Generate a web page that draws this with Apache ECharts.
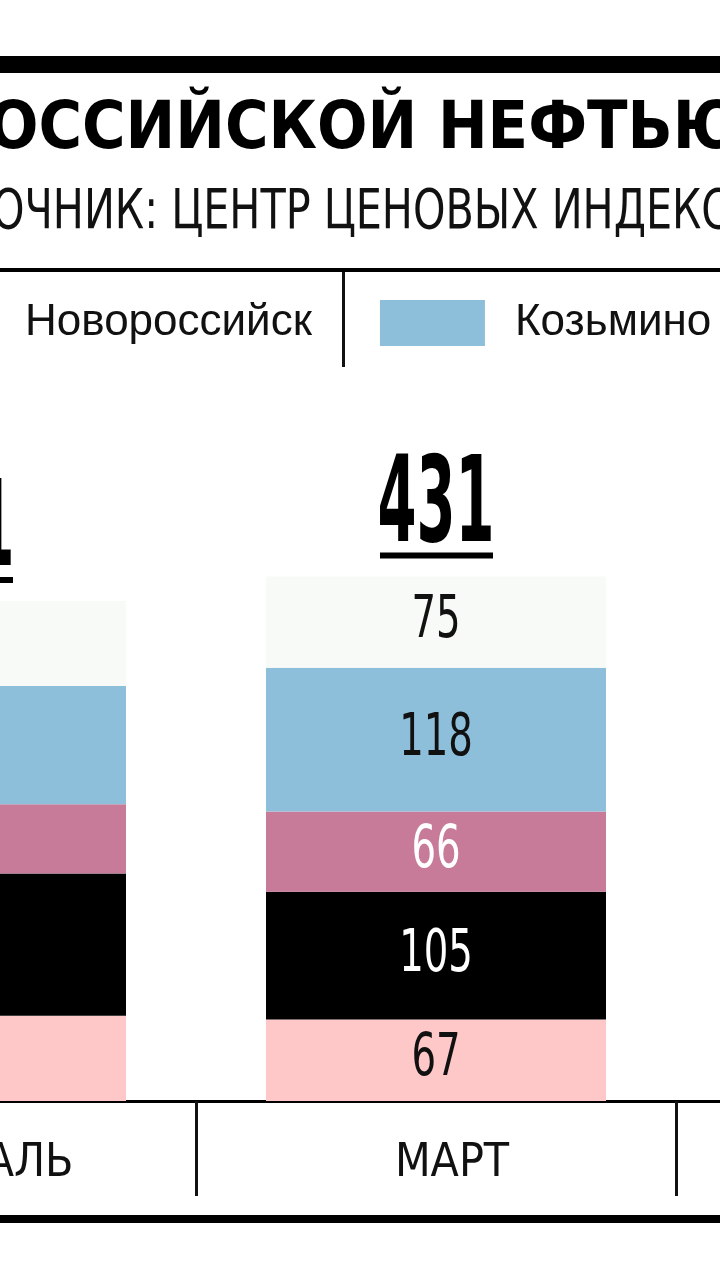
<!DOCTYPE html>
<html>
<head>
  <meta charset="UTF-8">
  <title>Экспорт российской нефти</title>
  <script src="https://cdn.jsdelivr.net/npm/echarts@6/dist/echarts.min.js"></script>
  <style>
    html, body { margin: 0; padding: 0; background: #fff; }
    #chart { width: 720px; height: 1280px; }
  </style>
</head>
<body>
  <div id="chart"></div>
  <script>
    // данные (третий месяц уходит за край кадра)
    var categories = ['ФЕВРАЛЬ', 'МАРТ', ''];
    var portNames = ['Приморск', 'Усть-Луга', 'Новороссийск', 'Козьмино', 'Прочие'];
    var pinkValues = [70, 67, null];
    var blackValues = [117, 105, null];
    var mauveValues = [57, 66, null];
    var blueValues = [97, 118, null];
    var lightValues = [70, 75, null];

    var NARROW = '"Liberation Sans Narrow", "DejaVu Sans Condensed", "Roboto", sans-serif';

    var stacks = [pinkValues, blackValues, mauveValues, blueValues, lightValues];
    var colors = ['#ffc8c8', '#000000', '#c87b98', '#8dbfdb', '#f8faf7'];
    var labelColors = ['#111', '#fff', '#fff', '#111', '#111'];

    // итог по месяцу = сумма сегментов
    var totals = categories.map(function (c, i) {
      var s = 0, has = false;
      stacks.forEach(function (arr) {
        if (arr[i] != null) { s += arr[i]; has = true; }
      });
      return has ? s : null;
    });
    var filled = totals.map(function (t, i) { return t == null ? null : [i, t]; }).filter(Boolean);

    var chart = echarts.init(document.getElementById('chart'));

    var series = stacks.map(function (arr, k) {
      return {
        name: portNames[k],
        type: 'bar',
        stack: 'all',
        barWidth: 340,
        data: arr,
        itemStyle: { color: colors[k] },
        emphasis: { disabled: true }
      };
    });

    // подписи сегментов (узкий шрифт через scaleX)
    series.push({
      type: 'custom',
      z: 5,
      data: filled,
      renderItem: function (params, api) {
        var i = api.value(0);
        var children = [];
        var cum = 0;
        stacks.forEach(function (arr, k) {
          var v = arr[i];
          if (v == null) return;
          var p = api.coord([i, cum + v / 2]);
          cum += v;
          children.push({
            type: 'text',
            x: p[0],
            y: p[1],
            scaleX: 0.74,
            style: {
              text: String(v),
              font: '58px ' + NARROW,
              fill: labelColors[k],
              align: 'center',
              verticalAlign: 'middle'
            }
          });
        });
        return { type: 'group', children: children };
      }
    });

    // подчёркнутые итоги над столбиками
    series.push({
      type: 'custom',
      z: 10,
      data: filled,
      renderItem: function (params, api) {
        var p = api.coord([api.value(0), api.value(1)]);
        return {
          type: 'group',
          children: [
            {
              type: 'text',
              x: p[0],
              y: p[1] - 67,
              scaleX: 0.52,
              style: {
                text: String(api.value(1)),
                font: 'bold 120px ' + NARROW,
                align: 'center',
                verticalAlign: 'middle',
                fill: '#000'
              }
            },
            {
              type: 'rect',
              shape: { x: p[0] - 56, y: p[1] - 24, width: 113, height: 6 },
              style: { fill: '#000' }
            }
          ]
        };
      }
    });

    var option = {
      backgroundColor: '#fff',
      animation: false,
      legend: {
        data: ['Новороссийск', 'Козьмино'],
        left: -110,
        top: 300,
        padding: 0,
        width: 2000,
        itemWidth: 105,
        itemHeight: 46,
        itemGap: 68,
        icon: 'rect',
        selectedMode: false,
        textStyle: {
          fontFamily: '"Liberation Sans", Arial, sans-serif',
          fontSize: 44,
          color: '#111',
          padding: [0, 0, 0, 25]
        }
      },
      grid: {
        left: -284,
        width: 1440,
        top: 371,
        bottom: 179,
        containLabel: false,
        outerBoundsMode: 'none'
      },
      xAxis: {
        type: 'category',
        data: categories,
        axisLine: { lineStyle: { color: '#000', width: 3 } },
        axisTick: { show: true, interval: 0, length: 95, lineStyle: { color: '#111', width: 3 } },
        axisLabel: {
          interval: 0,
          color: '#111',
          fontFamily: NARROW,
          fontSize: 46,
          margin: 63,
          verticalAlign: 'middle',
          padding: [0, 0, 0, 32]
        }
      },
      yAxis: {
        type: 'value',
        min: 0,
        max: 600,
        show: false
      },
      graphic: [
        { type: 'rect', shape: { x: 0, y: 56, width: 720, height: 17 }, style: { fill: '#000' } },
        {
          type: 'text', x: -12, y: 131,
          style: {
            text: 'ОССИЙСКОЙ НЕФТЬЮ',
            font: 'bold 66px ' + NARROW,
            fill: '#000',
            verticalAlign: 'middle'
          }
        },
        {
          type: 'text', x: -8, y: 213, scaleX: 0.82,
          style: {
            text: 'ОЧНИК: ЦЕНТР ЦЕНОВЫХ ИНДЕКСОВ',
            font: '56px ' + NARROW,
            fill: '#111',
            verticalAlign: 'middle'
          }
        },
        { type: 'rect', shape: { x: 0, y: 268, width: 720, height: 4 }, style: { fill: '#000' } },
        { type: 'rect', shape: { x: 342, y: 272, width: 3, height: 95 }, style: { fill: '#111' } },
        { type: 'rect', shape: { x: 0, y: 1215, width: 720, height: 8 }, style: { fill: '#000' } }
      ],
      series: series
    };

    chart.setOption(option);
  </script>
</body>
</html>
